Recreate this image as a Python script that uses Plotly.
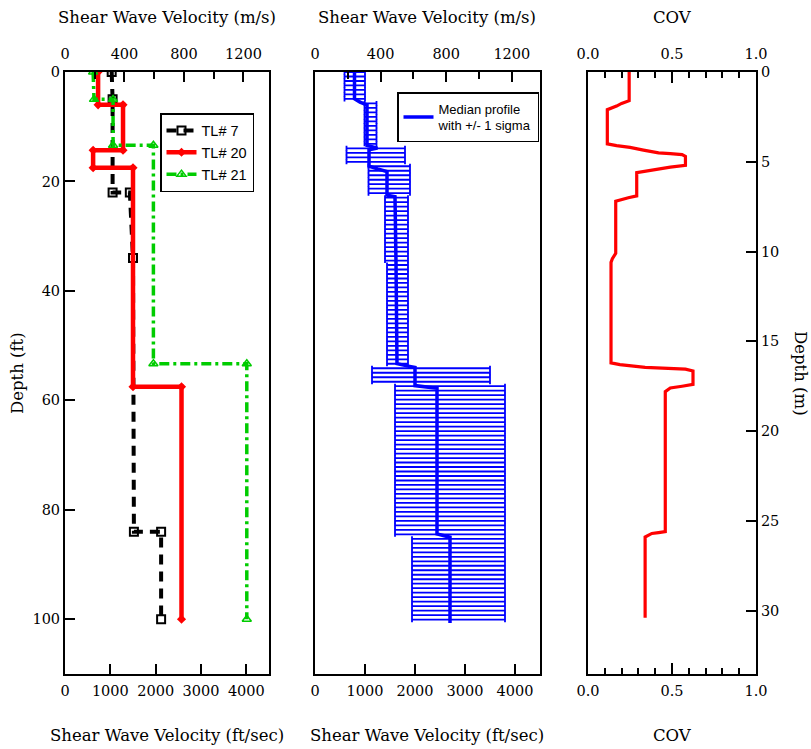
import plotly.graph_objects as go
import numpy as np

W, H = 811, 749
FT_PER_M = 3.28084

# ---------------- data: left panel (depth ft, Vs ft/sec) ----------------
tl7_depth = [0, 5, 22, 22, 34, 84, 84, 100]
tl7_vel = [1030, 1050, 1050, 1430, 1500, 1520, 2120, 2120]

tl20_depth = [0, 6, 6, 14.3, 14.3, 17.5, 17.5, 57.5, 57.5, 100]
tl20_vel = [730, 730, 1280, 1280, 620, 620, 1500, 1500, 2570, 2570]

tl21_depth = [0, 5, 5, 13.4, 13.4, 53.3, 53.3, 100]
tl21_vel = [620, 640, 1060, 1060, 1950, 1950, 4010, 4010]

# ---------------- data: middle panel (median profile, +/- 1 sigma) ----------------
med_depth = [0, 4.9, 5.5, 6.0, 13.4, 13.9, 14.2, 17.2, 17.7, 18.2, 22.5, 22.8,
             34.8, 53.3, 53.7, 54.0, 57.3, 57.8, 84.4, 85.0, 100.7]
med_vel = [790, 790, 900, 1040, 1040, 1250, 1080, 1080, 1250, 1440, 1440, 1600,
           1620, 1640, 1840, 2000, 2000, 2440, 2440, 2700, 2700]

layer_top_ft = [0, 5.2, 13.6, 17.2, 22.6, 34.8, 53.4, 57.4, 84.5]
layer_bot_ft = [5.2, 13.6, 17.2, 22.6, 34.8, 53.4, 57.4, 84.5, 100.8]
layer_median = [790, 1040, 1080, 1440, 1600, 1640, 2000, 2440, 2700]
layer_low = [590, 990, 630, 1070, 1400, 1440, 1140, 1600, 1940]
layer_high = [1000, 1230, 1800, 1900, 1860, 1860, 3500, 3800, 3800]
bar_step_m = 0.25  # sampling interval of the sigma bars

# ---------------- data: right panel (COV vs depth m) ----------------
cov_depth = [0, 1.6, 1.75, 1.9, 2.1, 4.0, 4.1, 4.2, 4.35, 4.5, 4.55, 4.6, 4.7, 5.2,
             5.3, 5.45, 5.6, 6.9, 7.0, 7.2, 10.1, 10.4, 10.6, 16.2, 16.3, 16.45,
             16.5, 16.55, 16.65, 17.4, 17.5, 17.6, 17.8, 25.6, 25.65, 25.7, 25.9, 30.4]
cov_val = [0.245, 0.245, 0.20, 0.17, 0.115, 0.115, 0.17, 0.25, 0.33, 0.42, 0.49,
           0.56, 0.58, 0.58, 0.49, 0.39, 0.29, 0.29, 0.24, 0.165, 0.165, 0.145,
           0.137, 0.137, 0.19, 0.34, 0.51, 0.58, 0.625, 0.625, 0.56, 0.49, 0.46,
           0.46, 0.42, 0.38, 0.34, 0.34]

# ---------------- build sigma bars ----------------
bar_d, bar_x, bar_plus, bar_minus = [], [], [], []
for d in np.arange(0, 31.0, bar_step_m) * FT_PER_M:
    for t, b, m, lo, hi in zip(layer_top_ft, layer_bot_ft, layer_median, layer_low, layer_high):
        if t <= d < b:
            bar_d.append(d)
            bar_x.append(m)
            bar_plus.append(hi - m)
            bar_minus.append(m - lo)
            break


def fx(p):
    return p / W


def fy(p):
    return 1 - p / H


SERIF = "DejaVu Serif"
SANS = "Liberation Sans"
ydom = [fy(674), fy(72)]

fig = go.Figure()

fig.add_trace(go.Scatter(
    x=tl7_vel, y=tl7_depth, name="TL# 7", mode="lines+markers",
    line=dict(color="black", width=4, dash="10px,7px"),
    marker=dict(symbol="square-open", size=8, color="black", line=dict(width=2)),
    xaxis="x", yaxis="y", legend="legend"))
fig.add_trace(go.Scatter(
    x=tl20_vel, y=tl20_depth, name="TL# 20", mode="lines+markers",
    line=dict(color="#ff0000", width=4.5),
    marker=dict(symbol="diamond", size=7, color="#ff0000"),
    xaxis="x", yaxis="y", legend="legend"))
fig.add_trace(go.Scatter(
    x=tl21_vel, y=tl21_depth, name="TL# 21", mode="lines+markers",
    line=dict(color="#00cc00", width=3.5, dash="10px,4px,3px,4px"),
    marker=dict(symbol="triangle-up-open", size=8, color="#00cc00", line=dict(width=1.5)),
    xaxis="x", yaxis="y", legend="legend"))

fig.add_trace(go.Scatter(
    x=bar_x, y=bar_d, mode="markers", showlegend=False,
    marker=dict(size=0.1, color="#0000ff"),
    error_x=dict(type="data", symmetric=False, array=bar_plus, arrayminus=bar_minus,
                 color="#0000ff", thickness=1.8, width=2.5),
    xaxis="x2", yaxis="y2"))
fig.add_trace(go.Scatter(
    x=med_vel, y=med_depth, mode="lines", name="Median profile<br>with +/- 1 sigma",
    line=dict(color="#0000ff", width=3.5),
    xaxis="x2", yaxis="y2", legend="legend2"))

fig.add_trace(go.Scatter(
    x=cov_val, y=cov_depth, mode="lines", showlegend=False,
    line=dict(color="#ff0000", width=3.2),
    xaxis="x3", yaxis="y3"))

# empty traces so that the top (m/s, COV) axes get drawn
for xa, ya in [("x4", "y"), ("x5", "y2"), ("x6", "y3")]:
    fig.add_trace(go.Scatter(x=[], y=[], mode="lines", showlegend=False,
                             hoverinfo="skip", xaxis=xa, yaxis=ya))

tickfont = dict(family=SERIF, size=14.5, color="black")
common_x = dict(showline=True, linecolor="black", linewidth=2, ticks="inside",
                tickcolor="black", tickwidth=2, showgrid=False, zeroline=False,
                tickfont=tickfont, automargin=False)
bottom_x = dict(common_x, ticklabelstandoff=3)
top_x = dict(common_x, ticklabelstandoff=5)
minor_v = dict(dtick=200, tick0=0, ticks="inside", ticklen=7, tickcolor="black", tickwidth=2)
minor_c = dict(dtick=0.1, tick0=0, ticks="inside", ticklen=6, tickcolor="black", tickwidth=2)
VMAX = 4500

lay = dict(
    width=W, height=H, margin=dict(l=0, r=0, t=0, b=0, autoexpand=False),
    paper_bgcolor="white", plot_bgcolor="white", showlegend=True,
    xaxis=dict(domain=[fx(65), fx(269)], range=[0, VMAX], anchor="y", side="bottom",
               tickvals=[0, 1000, 2000, 3000, 4000], ticklen=10, **bottom_x),
    xaxis4=dict(range=[0, VMAX / FT_PER_M], overlaying="x", anchor="y", side="top",
                tickvals=[0, 400, 800, 1200], ticklen=10, minor=minor_v, **top_x),
    yaxis=dict(domain=ydom, range=[110, 0], anchor="x", tickvals=[0, 20, 40, 60, 80, 100],
               showline=True, mirror=True, linecolor="black", linewidth=2, ticks="inside",
               ticklen=10, tickcolor="black", tickwidth=2, showgrid=False, zeroline=False,
               tickfont=tickfont, automargin=False),
    xaxis2=dict(domain=[fx(315), fx(540)], range=[0, VMAX], anchor="y2", side="bottom",
                tickvals=[0, 1000, 2000, 3000, 4000], ticklen=10, **bottom_x),
    xaxis5=dict(range=[0, VMAX / FT_PER_M], overlaying="x2", anchor="y2", side="top",
                tickvals=[0, 400, 800, 1200], ticklen=10, minor=minor_v, **top_x),
    yaxis2=dict(domain=ydom, range=[110, 0], anchor="x2", showline=True, mirror=True,
                linecolor="black", linewidth=2, ticks="", showticklabels=False,
                showgrid=False, zeroline=False, automargin=False),
    xaxis3=dict(domain=[fx(588), fx(756)], range=[0, 1], anchor="y3", side="bottom",
                tickvals=[0, 0.5, 1.0], ticktext=["0.0", "0.5", "1.0"], ticklen=11,
                minor=minor_c, **bottom_x),
    xaxis6=dict(range=[0, 1], overlaying="x3", anchor="y3", side="top",
                tickvals=[0, 0.5, 1.0], ticktext=["0.0", "0.5", "1.0"], ticklen=11,
                minor=minor_c, **top_x),
    yaxis3=dict(domain=ydom, range=[110 / FT_PER_M, 0], anchor="x3", side="right",
                tickvals=[0, 5, 10, 15, 20, 25, 30], showline=True, mirror=True,
                linecolor="black", linewidth=2, ticks="inside", ticklen=10, tickcolor="black",
                tickwidth=2, showgrid=False, zeroline=False, tickfont=tickfont, automargin=False),
    legend=dict(x=fx(160), y=fy(113), xanchor="left", yanchor="top", bgcolor="white",
                bordercolor="black", borderwidth=1.5, font=dict(family=SANS, size=14.5, color="black"),
                itemwidth=30, tracegroupgap=0),
    legend2=dict(x=fx(397), y=fy(92), xanchor="left", yanchor="top", bgcolor="white",
                 bordercolor="black", borderwidth=1.5, font=dict(family=SANS, size=13, color="black"),
                 itemwidth=30),
)
fig.update_layout(**lay)

title_font = dict(family=SERIF, size=16.5, color="black")
ann = []
for cx, top_t, bot_t in [(167, "Shear Wave Velocity (m/s)", "Shear Wave Velocity (ft/sec)"),
                         (427, "Shear Wave Velocity (m/s)", "Shear Wave Velocity (ft/sec)"),
                         (672, "COV", "COV")]:
    ann.append(dict(x=fx(cx), y=fy(17), xref="paper", yref="paper", text=top_t,
                    showarrow=False, font=title_font, xanchor="center", yanchor="middle"))
    ann.append(dict(x=fx(cx), y=fy(735), xref="paper", yref="paper", text=bot_t,
                    showarrow=False, font=title_font, xanchor="center", yanchor="middle"))
ann.append(dict(x=fx(17), y=fy(373), xref="paper", yref="paper", text="Depth (ft)",
                showarrow=False, font=title_font, textangle=-90, xanchor="center", yanchor="middle"))
ann.append(dict(x=fx(801), y=fy(373), xref="paper", yref="paper", text="Depth (m)",
                showarrow=False, font=title_font, textangle=90, xanchor="center", yanchor="middle"))
fig.update_layout(annotations=ann)

fig.write_html("out.html")
